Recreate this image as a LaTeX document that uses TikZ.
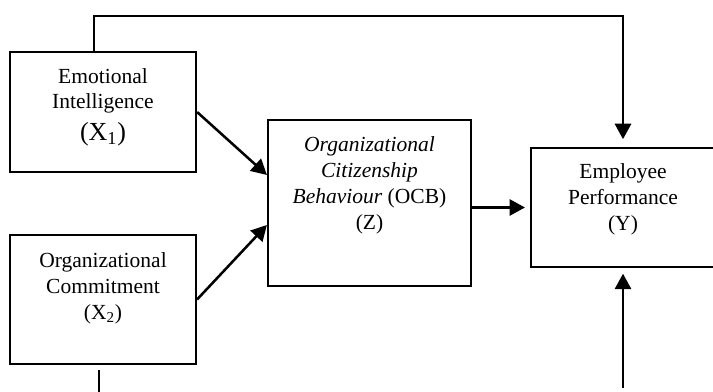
\documentclass[tikz,border=0pt]{standalone}
\usepackage{fontspec}
\setmainfont{Liberation Serif}
\usetikzlibrary{calc, positioning, arrows.meta}

\begin{document}
\begin{tikzpicture}[x=0.025cm, y=-0.025cm,
  box/.style={draw, line width=1.5pt, inner sep=0pt},
  txt/.style={align=center, inner sep=0pt, font=\fontsize{15.3}{18.4}\selectfont},
  arr/.style={line width=1.8pt, -{Triangle[length=11pt, width=11.5pt]}},
  lin/.style={line width=1.5pt}]

  \useasboundingbox (0,0) rectangle (713,392);

  \coordinate (x1c) at (103,112);   % emotional intelligence
  \coordinate (x2c) at (103,299.5); % commitment
  \coordinate (zc) at (369.5,203);  % ocb
  \coordinate (yc) at (623,207.5);  % performance

  \coordinate (topl) at (94,16);  % feedback line, left corner
  \coordinate (topr) at (623,16); % right corner
  \coordinate (botl) at (99,370);
  \coordinate (botl2) at (99,400);
  \coordinate (botr) at (623,388);

  % boxes
  \node[box, minimum width=4.65cm, minimum height=3cm] (x1) at (x1c) {};
  \node[box, minimum width=4.65cm, minimum height=3.225cm] (x2) at (x2c) {};
  \node[box, minimum width=5.075cm, minimum height=4.15cm] (z) at (zc) {};
  \node[box, minimum width=4.6cm, minimum height=2.975cm] (y) at (yc) {};

  % box texts
  \node[txt] (x1t) at (103,107) {Emotional\\Intelligence\\[4pt]{\fontsize{18.5}{20}\selectfont (X\textsubscript{1})}};
  \node[txt] (x2t) at (103,288) {Organizational\\Commitment\\(X\textsubscript{2})};
  \node[txt] (zt) at (369.5,185.5) {\textit{Organizational}\\\textit{Citizenship}\\\textit{Behaviour} (OCB)\\(Z)};
  \node[txt] (yt) at (623,199.5) {Employee\\Performance\\(Y)};

  % direct paths
  \draw[arr] (x1.east) -- ($(z.west)+(0,-28)$);
  \draw[arr] (x2.east) -- ($(z.west)+(0,22)$);
  \draw[arr, shorten >=3.5pt] (z.east |- y.west) -- (y.west);
  % x1 to y over the top
  \draw[arr, shorten >=5.5pt] (x1.north -| topl) -- (topl) -- (topr) -- (y.north);
  % x2 to y under the bottom
  \draw[lin] (botl) -- (botl2);
  \draw[arr, shorten >=4pt] (botr) -- (y.south);
\end{tikzpicture}
\end{document}
